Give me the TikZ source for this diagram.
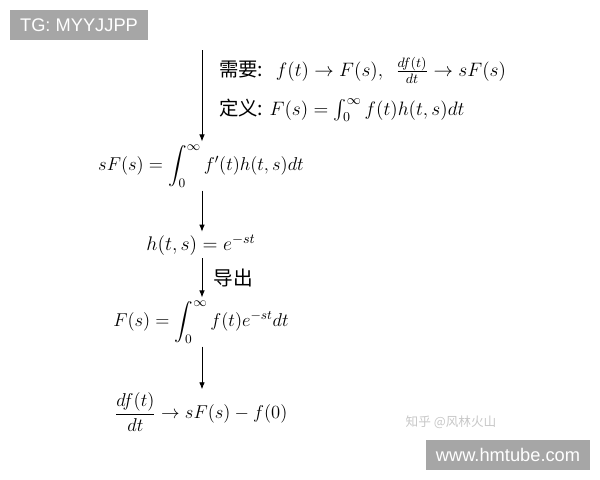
\RequirePackage{fix-cm}
\documentclass[tikz,border=0pt]{standalone}
\usepackage{amsmath,amssymb}
\usepackage{fontspec}
\newfontfamily\cjk{Noto Sans CJK SC}
\newfontfamily\wmfont{Liberation Sans}
\usetikzlibrary{arrows.meta, positioning}

\tikzset{
    formula/.style={inner sep=2pt, font=\fontsize{13.2}{16}\selectfont},
    premise/.style={inner sep=2pt, font=\fontsize{13.8}{16}\selectfont},
    flow/.style={-{Latex[length=5pt,width=4pt]}, line width=0.6pt},
    wmbox/.style={fill=black!35, text=white, inner sep=0pt, font=\wmfont\fontsize{13}{15}\selectfont},
}

\begin{document}
\begin{tikzpicture}[x=0.025cm,y=-0.025cm]
        \useasboundingbox (0,0) rectangle (600,480);

        % watermarks
        \node[wmbox, minimum width=138*0.025cm, minimum height=30*0.025cm] (tg) at (79,25) {TG: MYYJJPP};
        \node[wmbox, minimum width=164*0.025cm, minimum height=30*0.025cm] (site) at (508,455) {www.hmtube.com};
        \node[text=black!22, inner sep=0pt, font=\cjk\fontsize{9}{11}\selectfont] (zh) at (451,422) {知乎 @风林火山};

        % premises
        \node[premise, anchor=west] (need) at (216,70)
            {{\cjk 需要:}\ \ $f(t)\to F(s)$,\ \ $\frac{df(t)}{dt}\to sF(s)$};
        \node[premise, anchor=west] (defn) at (216,110)
            {{\cjk 定义:}\ $F(s)=\int_0^\infty f(t)h(t,s)dt$};

        % chain of formulas
        \node[formula] (sF) at (201,166) {$\displaystyle sF(s)=\int_0^\infty f'(t)h(t,s)dt$};
        \node[formula, font=\fontsize{14}{17}\selectfont] (h) at (201,245) {$h(t,s)=e^{-st}$};
        \node[formula] (F)  at (201,322) {$\displaystyle F(s)=\int_0^\infty f(t)e^{-st}dt$};
        \node[formula] (d)  at (201,412) {$\displaystyle \frac{df(t)}{dt}\to sF(s)-f(0)$};

        \coordinate (top) at (202,50);

        \draw[flow] (top) -- (top |- sF.north);
        \draw[flow] (sF.south -| top) -- (h.north -| top);
        \draw[flow] (h.south -| top) -- node[right=6pt, inner sep=2pt, font=\cjk\fontsize{14}{17}\selectfont] (derive) {导出} (F.north -| top);
        \draw[flow] (F.south -| top) -- (d.north -| top);
    \end{tikzpicture}
\end{document}
